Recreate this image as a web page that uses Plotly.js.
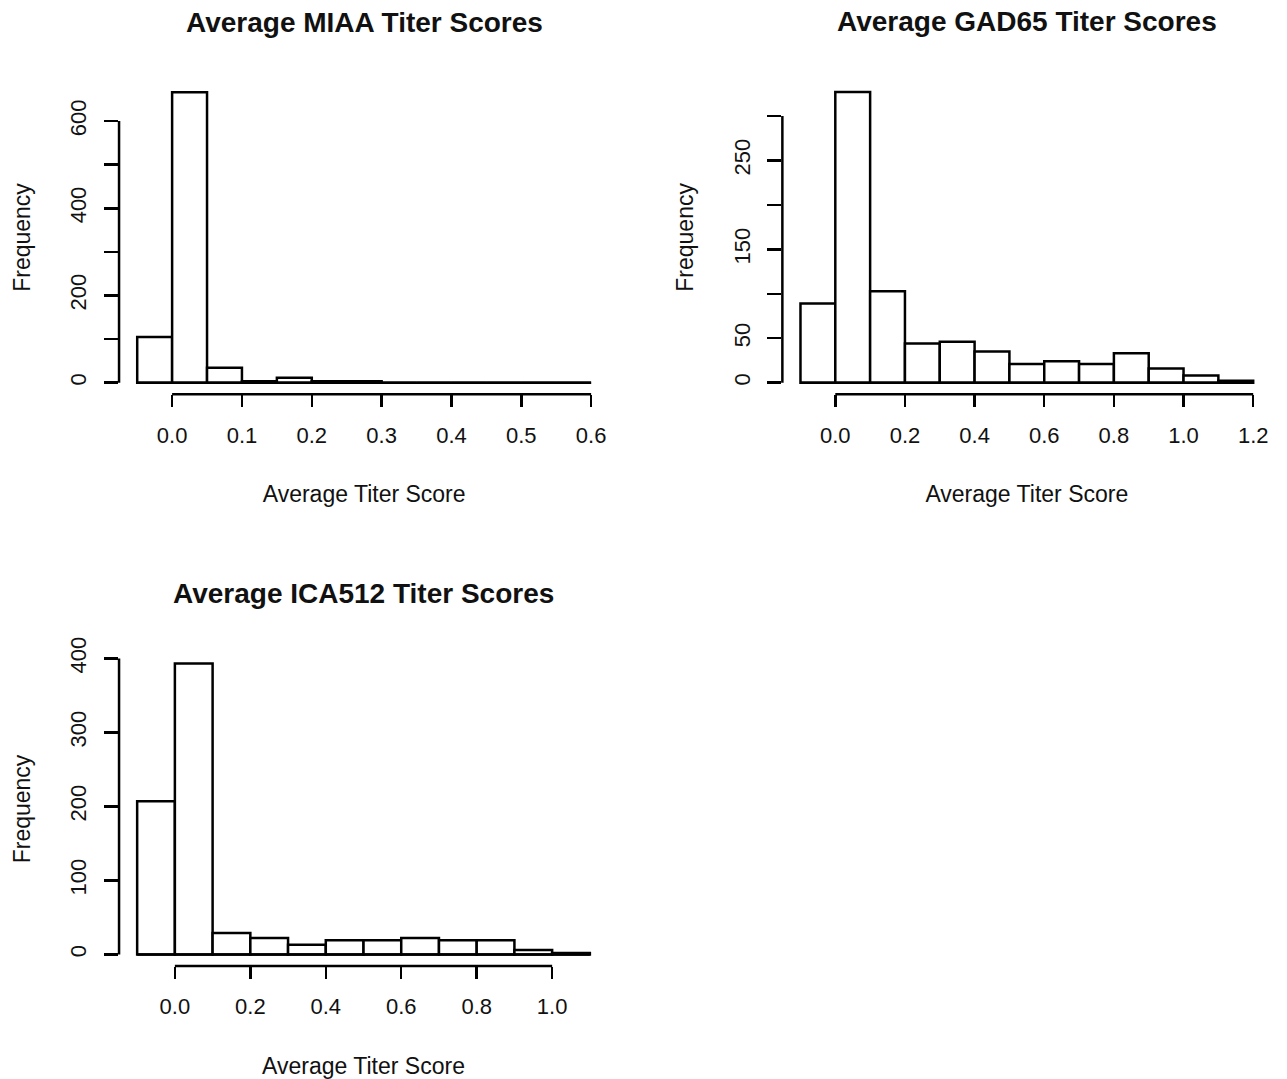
<!DOCTYPE html>
<html>
<head>
<meta charset="utf-8">
<script src="https://cdn.plot.ly/plotly-3.0.1.min.js"></script>
<style>html,body{margin:0;padding:0;background:#fff;}#chart{width:1287px;height:1079px;}</style>
</head>
<body>
<div id="chart"></div>
<script>
// ---- Data ----
const miaaBreaks = [-0.05, 0, 0.05, 0.1, 0.15, 0.2, 0.25, 0.3, 0.35, 0.4, 0.45, 0.5, 0.55, 0.6];
const miaaCounts = [105, 666, 34, 3, 11, 3, 3, 0, 0, 0, 0, 0, 0];
const miaaXTicks = [0, 0.1, 0.2, 0.3, 0.4, 0.5, 0.6];
const miaaXLabels = ["0.0", "0.1", "0.2", "0.3", "0.4", "0.5", "0.6"];
const miaaYTicks = [0, 100, 200, 300, 400, 500, 600];
const miaaYLabels = ["0", "", "200", "", "400", "", "600"];

const gadBreaks = [-0.1, 0, 0.1, 0.2, 0.3, 0.4, 0.5, 0.6, 0.7, 0.8, 0.9, 1.0, 1.1, 1.2];
const gadCounts = [89, 327, 103, 44, 46, 35, 21, 24, 21, 33, 16, 8, 2];
const gadXTicks = [0, 0.2, 0.4, 0.6, 0.8, 1.0, 1.2];
const gadXLabels = ["0.0", "0.2", "0.4", "0.6", "0.8", "1.0", "1.2"];
const gadYTicks = [0, 50, 100, 150, 200, 250, 300];
const gadYLabels = ["0", "50", "", "150", "", "250", ""];

const icaBreaks = [-0.1, 0, 0.1, 0.2, 0.3, 0.4, 0.5, 0.6, 0.7, 0.8, 0.9, 1.0, 1.1];
const icaCounts = [207, 393, 29, 22, 13, 19, 19, 22, 19, 19, 6, 2];
const icaXTicks = [0, 0.2, 0.4, 0.6, 0.8, 1.0];
const icaXLabels = ["0.0", "0.2", "0.4", "0.6", "0.8", "1.0"];
const icaYTicks = [0, 100, 200, 300, 400];
const icaYLabels = ["0", "100", "200", "300", "400"];

const titles = ["Average MIAA Titer Scores", "Average GAD65 Titer Scores", "Average ICA512 Titer Scores"];
const xTitle = "Average Titer Score";
const yTitle = "Frequency";

// ---- Build ----
const FONT = "Liberation Sans, Arial, Helvetica, sans-serif";
const INK = "#111";
const LW = 2.5;

const panels = [
  {br: miaaBreaks, ct: miaaCounts, xt: miaaXTicks, xl: miaaXLabels, yt: miaaYTicks, yl: miaaYLabels,
   xd: [0.0925, 0.4734], yd: [0.6346, 0.9252]},
  {br: gadBreaks, ct: gadCounts, xt: gadXTicks, xl: gadXLabels, yt: gadYTicks, yl: gadYLabels,
   xd: [0.6079, 0.9878], yd: [0.6346, 0.9254]},
  {br: icaBreaks, ct: icaCounts, xt: icaXTicks, xl: icaXLabels, yt: icaYTicks, yl: icaYLabels,
   xd: [0.0925, 0.4724], yd: [0.1047, 0.3958]}
];

const traces = [];
const layout = {
  width: 1287, height: 1079,
  margin: {l: 0, r: 0, t: 0, b: 0},
  paper_bgcolor: "#fff", plot_bgcolor: "#fff",
  showlegend: false,
  font: {family: FONT, color: INK},
  shapes: [], annotations: []
};

panels.forEach((p, i) => {
  const n = i === 0 ? "" : String(i + 1);
  const xa = "x" + n, ya = "y" + n;
  const centers = p.ct.map((_, k) => (p.br[k] + p.br[k + 1]) / 2);
  const widths = p.ct.map((_, k) => p.br[k + 1] - p.br[k]);
  traces.push({
    type: "bar", x: centers, y: p.ct, width: widths,
    xaxis: xa, yaxis: ya,
    marker: {color: "#fff", line: {color: "#000", width: LW}},
    hoverinfo: "x+y"
  });
  const b0 = p.br[0], b1 = p.br[p.br.length - 1];
  const ext = 0.04 * (b1 - b0);
  const ymax = Math.max(...p.ct);
  layout["xaxis" + n] = {
    domain: p.xd, anchor: ya, range: [b0 - ext, b1 + ext],
    showgrid: false, zeroline: false, showline: false,
    ticks: "outside", ticklen: 12, tickwidth: LW, tickcolor: "#000",
    tickmode: "array", tickvals: p.xt, ticktext: p.xl,
    tickfont: {size: 22, family: FONT, color: INK},
    ticklabelstandoff: 9,
    title: {text: xTitle, font: {size: 23, family: FONT, color: INK}, standoff: 39},
    automargin: false, fixedrange: true
  };
  layout["yaxis" + n] = {
    domain: p.yd, anchor: xa, range: [-0.04 * ymax, 1.04 * ymax],
    showgrid: false, zeroline: false, showline: false,
    ticks: "outside", ticklen: 14, tickwidth: LW, tickcolor: "#000",
    tickmode: "array", tickvals: p.yt, ticktext: p.yl, tickangle: -90,
    tickfont: {size: 22, family: FONT, color: INK},
    ticklabelstandoff: 9,
    title: {text: yTitle, font: {size: 23, family: FONT, color: INK}, standoff: 29},
    automargin: false, fixedrange: true
  };
  // R-style axis lines spanning first to last tick
  layout.shapes.push({type: "line", xref: xa, yref: ya + " domain",
    x0: p.xt[0], x1: p.xt[p.xt.length - 1], y0: 0, y1: 0, line: {color: "#000", width: LW}});
  layout.shapes.push({type: "line", xref: xa + " domain", yref: ya,
    x0: 0, x1: 0, y0: p.yt[0], y1: p.yt[p.yt.length - 1], line: {color: "#000", width: LW}});
  // histogram baseline (bottom edges of all bins, including empty ones)
  layout.shapes.push({type: "line", xref: xa, yref: ya,
    x0: b0, x1: b1, y0: 0, y1: 0, line: {color: "#000", width: LW}});
  layout.annotations.push({
    text: "<b>" + titles[i] + "</b>", showarrow: false,
    xref: xa + " domain", yref: ya + " domain", x: 0.5, y: 1,
    xanchor: "center", yanchor: "middle", yshift: 58.5,
    font: {size: 28, family: FONT, color: INK}
  });
});

Plotly.newPlot("chart", traces, layout, {staticPlot: true, displayModeBar: false});
</script>
</body>
</html>
